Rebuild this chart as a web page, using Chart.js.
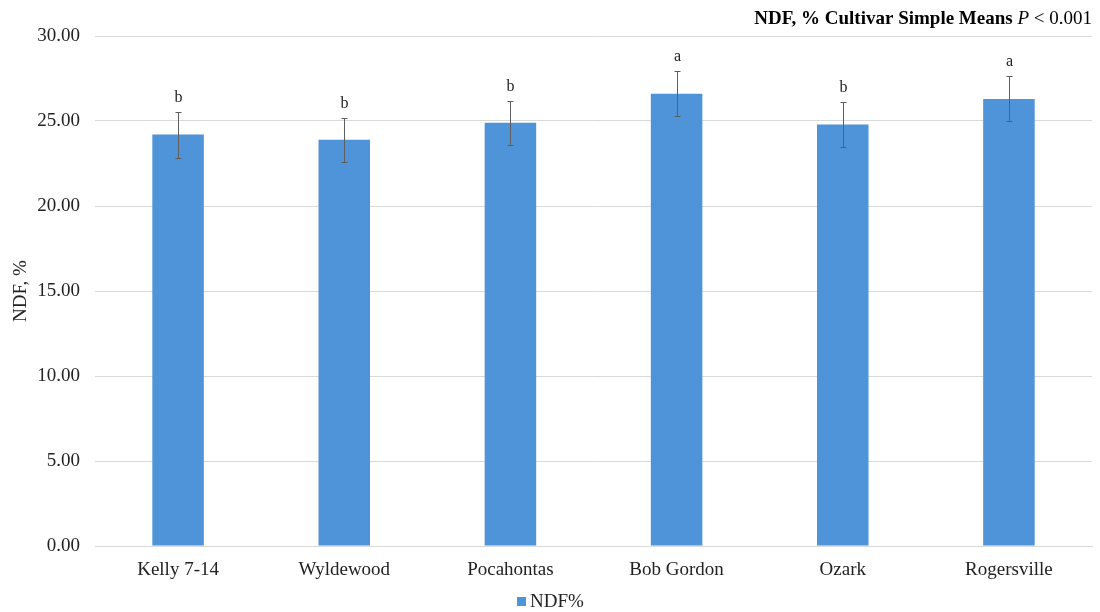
<!DOCTYPE html>
<html>
<head>
<meta charset="utf-8">
<script src="https://cdn.jsdelivr.net/npm/chart.js@4/dist/chart.umd.min.js"></script>
<style>
  html, body { margin: 0; padding: 0; background: #ffffff; }
  #wrap { width: 1100px; height: 612px; }
</style>
</head>
<body>
<div id="wrap"><canvas id="chart" width="1100" height="612"></canvas></div>
<script>
// Cultivar means for NDF (%), standard errors and significance letters
const cultivars = ["Kelly 7-14", "Wyldewood", "Pocahontas", "Bob Gordon", "Ozark", "Rogersville"];
const ndfMeans = [24.2, 23.9, 24.9, 26.6, 24.8, 26.3];
const ndfErrors = [1.35, 1.3, 1.3, 1.32, 1.32, 1.32];
const groupLetters = ["b", "b", "b", "a", "b", "a"];
const yTicks = [0, 5, 10, 15, 20, 25, 30];

const SERIF = "'Liberation Serif', 'Times New Roman', serif";
const BAR_COLOR = "#4f94d8";

// Error bars and significance letters, positioned through the y scale
const errorBarPlugin = {
  id: "errorBars",
  afterDatasetsDraw(chart) {
    const ctx = chart.ctx;
    const yScale = chart.scales.y;
    const meta = chart.getDatasetMeta(0);
    ctx.save();
    meta.data.forEach((bar, i) => {
      const x = Math.round(bar.x) + 0.5;
      const yTop = Math.round(yScale.getPixelForValue(ndfMeans[i] + ndfErrors[i])) + 0.5;
      const yBot = Math.round(yScale.getPixelForValue(ndfMeans[i] - ndfErrors[i])) + 0.5;
      ctx.strokeStyle = "#5e5e5e";
      ctx.lineWidth = 1;
      ctx.beginPath();
      ctx.moveTo(x, yTop); ctx.lineTo(x, yBot);
      ctx.moveTo(x - 3, yTop); ctx.lineTo(x + 3, yTop);
      ctx.moveTo(x - 3, yBot); ctx.lineTo(x + 3, yBot);
      ctx.stroke();
      ctx.fillStyle = "#222222";
      ctx.font = "16px " + SERIF;
      ctx.textAlign = "center";
      ctx.textBaseline = "bottom";
      ctx.fillText(groupLetters[i], x, yTop - 7);
    });
    ctx.restore();
  }
};

// Title with an italic P, right-aligned above the plot
const titlePlugin = {
  id: "mixedTitle",
  afterDraw(chart) {
    const ctx = chart.ctx;
    const parts = [
      { text: "NDF, % Cultivar Simple Means ", font: "bold 19px " + SERIF },
      { text: "P", font: "italic 19px " + SERIF },
      { text: " < 0.001", font: "19px " + SERIF }
    ];
    ctx.save();
    let total = 0;
    parts.forEach(p => { ctx.font = p.font; p.w = ctx.measureText(p.text).width; total += p.w; });
    let x = chart.chartArea.right - total;
    ctx.fillStyle = "#000000";
    ctx.textBaseline = "alphabetic";
    ctx.textAlign = "left";
    parts.forEach(p => { ctx.font = p.font; ctx.fillText(p.text, x, 24); x += p.w; });
    ctx.restore();
  }
};

// Series key centred under the chart, built from the dataset's label and colour
const seriesKeyPlugin = {
  id: "seriesKey",
  afterDraw(chart) {
    const ctx = chart.ctx;
    const ds = chart.data.datasets[0];
    ctx.save();
    ctx.font = "19px " + SERIF;
    const textW = ctx.measureText(ds.label).width;
    const box = 9, gap = 4;
    const total = box + gap + textW;
    const x0 = Math.round(chart.width / 2 - total / 2);
    const baseline = 607;
    ctx.fillStyle = ds.backgroundColor;
    ctx.fillRect(x0, baseline - 10, box, box);
    ctx.fillStyle = "#222222";
    ctx.textAlign = "left";
    ctx.textBaseline = "alphabetic";
    ctx.fillText(ds.label, x0 + box + gap, baseline);
    ctx.restore();
  }
};

new Chart(document.getElementById("chart"), {
  type: "bar",
  data: {
    labels: cultivars,
    datasets: [{
      label: "NDF%",
      data: ndfMeans,
      backgroundColor: BAR_COLOR,
      borderWidth: 0,
      categoryPercentage: 1.0,
      barPercentage: 0.31
    }]
  },
  options: {
    responsive: false,
    animation: false,
    layout: { padding: { top: 36, right: 8, bottom: 0, left: 0 } },
    plugins: {
      legend: { display: false },
      title: { display: false },
      tooltip: { enabled: false }
    },
    scales: {
      x: {
        grid: { display: false, drawTicks: false },
        border: { display: true, color: "#d9d9d9" },
        ticks: { color: "#222222", padding: 13, font: { family: SERIF, size: 19 } },
        afterFit(scale) { scale.height = 66; }
      },
      y: {
        min: 0,
        max: 30,
        afterBuildTicks(scale) { scale.ticks = yTicks.map(v => ({ value: v })); },
        grid: { color: "#d9d9d9", drawTicks: false },
        border: { display: false },
        ticks: {
          color: "#222222",
          padding: 15,
          font: { family: SERIF, size: 19 },
          callback: v => Number(v).toFixed(2)
        },
        title: {
          display: true,
          text: "NDF, %",
          color: "#222222",
          font: { family: SERIF, size: 19 },
          padding: { top: 10, bottom: 0 }
        },
        afterFit(scale) { scale.width = 95; }
      }
    }
  },
  plugins: [errorBarPlugin, titlePlugin, seriesKeyPlugin]
});
</script>
</body>
</html>
